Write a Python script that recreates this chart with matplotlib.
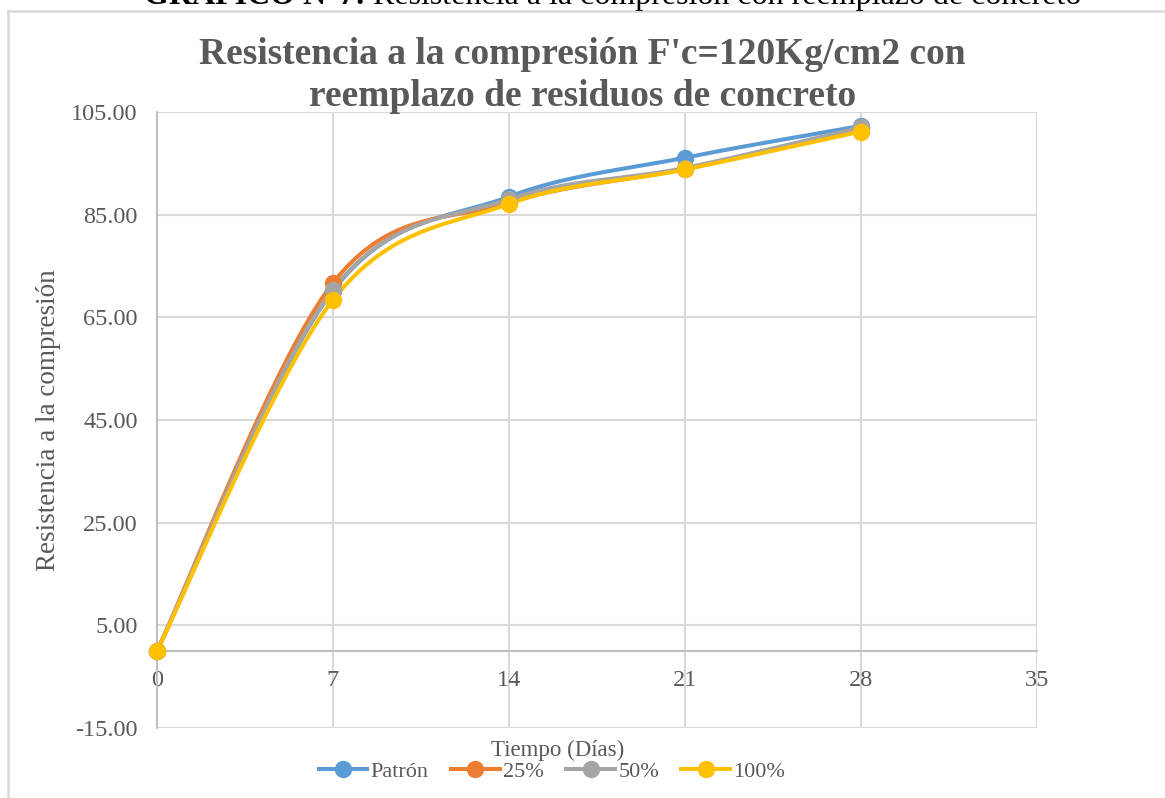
import numpy as np
import matplotlib.pyplot as plt
from matplotlib.lines import Line2D

plt.rcParams['font.family'] = ['Liberation Serif', 'DejaVu Serif']

# Datos de resistencia a la compresión por edad
dias = [0, 7, 14, 21, 28]
patron = [0.0, 70.2, 88.5, 96.1, 102.3]
r25 = [0.0, 71.7, 87.3, 93.9, 101.6]
r50 = [0.0, 70.4, 88.0, 94.1, 102.0]
r100 = [0.0, 68.4, 87.1, 93.8, 101.2]

series = [('Patrón', patron, '#5B9BD5'),
          ('25%', r25, '#ED7D31'),
          ('50%', r50, '#A5A5A5'),
          ('100%', r100, '#FFC000')]

y_ticks = [-15, 5, 25, 45, 65, 85, 105]
x_ticks = [0, 7, 14, 21, 28, 35]
gris = '#595959'


def suavizar(x, y, n=40):
    # curva suavizada tipo Excel (Bezier cúbica con tangentes Catmull-Rom)
    x = np.asarray(x, float)
    y = np.asarray(y, float)
    px, py = [], []
    for i in range(len(x) - 1):
        x0, y0 = (x[i - 1], y[i - 1]) if i > 0 else (x[i], y[i])
        x3, y3 = (x[i + 2], y[i + 2]) if i + 2 < len(x) else (x[i + 1], y[i + 1])
        c1x = x[i] + (x[i + 1] - x0) / 6
        c1y = y[i] + (y[i + 1] - y0) / 6
        c2x = x[i + 1] - (x3 - x[i]) / 6
        c2y = y[i + 1] - (y3 - y[i]) / 6
        t = np.linspace(0, 1, n)
        a, b, c, d = (1 - t) ** 3, 3 * t * (1 - t) ** 2, 3 * t ** 2 * (1 - t), t ** 3
        px.append(a * x[i] + b * c1x + c * c2x + d * x[i + 1])
        py.append(a * y[i] + b * c1y + c * c2y + d * y[i + 1])
    return np.concatenate(px), np.concatenate(py)


W, H = 1165, 798
fig = plt.figure(figsize=(W / 100, H / 100), dpi=100)
ax = fig.add_axes([157 / W, 1 - 728 / H, (1037 - 157) / W, (728 - 112) / H])

# borde del área del gráfico (superior e izquierdo)
fig.add_artist(Line2D([8 / W, 1], [1 - 11 / H, 1 - 11 / H], transform=fig.transFigure,
                      color='#D9D9D9', linewidth=1.8))
fig.add_artist(Line2D([8 / W, 8 / W], [0, 1 - 11 / H], transform=fig.transFigure,
                      color='#D9D9D9', linewidth=1.8))

for nombre, valores, color in series:
    sx, sy = suavizar(dias, valores)
    ax.plot(sx, sy, color=color, linewidth=2.9, solid_capstyle='round', zorder=3)
    ax.plot(dias, valores, 'o', color=color, markersize=11.5, zorder=4, clip_on=False)
    ax.plot([], [], '-o', color=color, linewidth=2.9, markersize=11.5, label=nombre)

ax.set_xlim(0, 35)
ax.set_ylim(-15, 105)
ax.set_xticks(x_ticks)
ax.set_yticks(y_ticks)
ax.set_yticklabels([f'{v:.2f}' for v in y_ticks])
ax.grid(True, color='#D9D9D9', linewidth=1.5)
ax.set_axisbelow(True)

for lado in ['top', 'right']:
    ax.spines[lado].set_visible(False)
ax.spines['bottom'].set_position(('data', 0))
ax.spines['bottom'].set_color('#BFBFBF')
ax.spines['bottom'].set_linewidth(1.5)
ax.spines['left'].set_color('#BFBFBF')
ax.spines['left'].set_linewidth(1.5)
ax.tick_params(length=0, labelsize=17.5, colors=gris)
ax.tick_params(axis='x', pad=14)
ax.tick_params(axis='y', pad=14)

fig.text(49 / W, 1 - 420 / H, 'Resistencia a la compresión', rotation=90,
         ha='center', va='center', fontsize=19.5, color=gris)
fig.text(558 / W, 1 - 750 / H, 'Tiempo (Días)', ha='center', va='center',
         fontsize=16.5, color=gris)

fig.text(0.5, 1 - 55 / H, "Resistencia a la compresión F'c=120Kg/cm2 con",
         ha='center', va='center', fontsize=27, fontweight='bold', color=gris)
fig.text(0.5, 1 - 97 / H, 'reemplazo de residuos de concreto',
         ha='center', va='center', fontsize=27, fontweight='bold', color=gris)

# encabezado del documento
fig.text(366 / W, 1 - 4 / H, 'GRAFICO N°7:', ha='right', va='baseline',
         fontsize=23, fontweight='bold', color='black')
fig.text(373 / W, 1 - 4 / H, 'Resistencia a la compresión con reemplazo de concreto',
         ha='left', va='baseline', fontsize=23, color='black')

fig.legend(loc='center', bbox_to_anchor=(552 / W, 1 - 772 / H), ncol=4, frameon=False,
           fontsize=16, labelcolor=gris, handlelength=2.2, columnspacing=1.0,
           handletextpad=0.15)

fig.savefig('out.png', dpi=100)
